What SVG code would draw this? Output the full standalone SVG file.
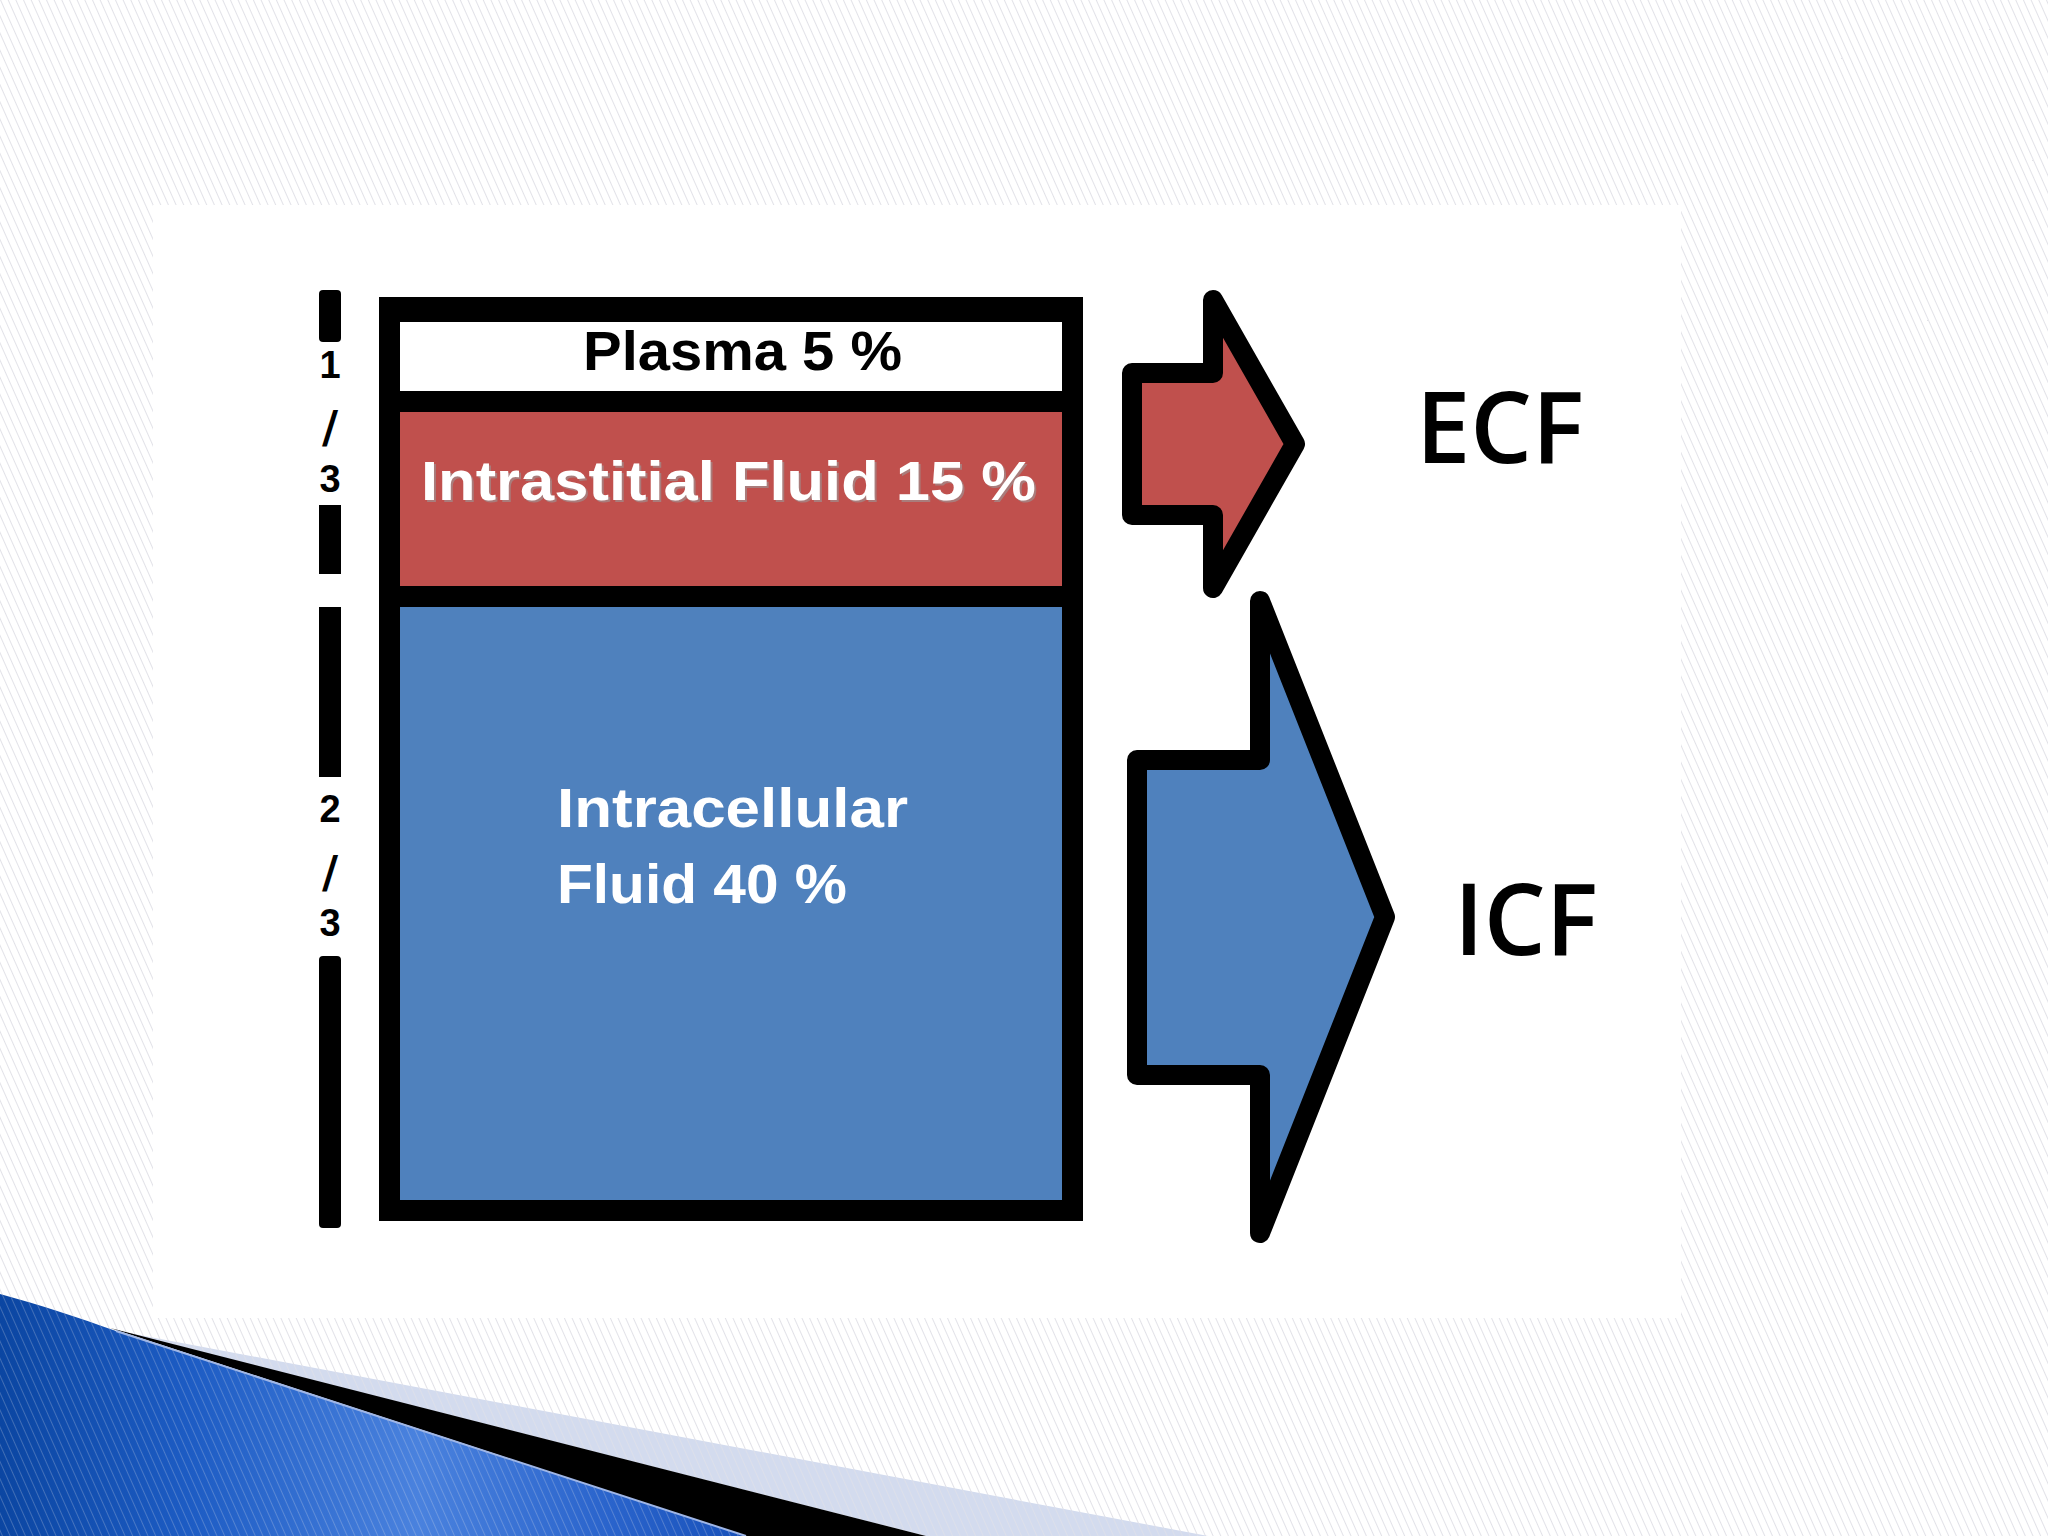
<svg xmlns="http://www.w3.org/2000/svg" width="2048" height="1536" viewBox="0 0 2048 1536">
  <defs>
    <pattern id="hatch" width="7" height="7" patternUnits="userSpaceOnUse" patternTransform="rotate(-24)">
      <line x1="0.5" y1="0" x2="0.5" y2="7" stroke="#e2e2e8" stroke-width="1"/>
    </pattern>
    <linearGradient id="blueSwoosh" x1="0" y1="0" x2="760" y2="0" gradientUnits="userSpaceOnUse">
      <stop offset="0" stop-color="#0b46a2"/>
      <stop offset="0.25" stop-color="#1d5cc4"/>
      <stop offset="0.55" stop-color="#4a82de"/>
      <stop offset="0.8" stop-color="#2a64cc"/>
      <stop offset="1" stop-color="#164fb8"/>
    </linearGradient>
    <style>
      .lbl { font-family: "Liberation Sans", Arial, sans-serif; font-weight: bold; }
      .big { font-family: "Open Sans", "Liberation Sans", sans-serif; font-weight: 600; font-size: 99px; fill: #000; }
      .frac { font-family: "Liberation Sans", Arial, sans-serif; font-weight: bold; font-size: 38px; fill: #000; text-anchor: middle; }
      .slash { font-family: "DejaVu Sans", sans-serif; font-weight: bold; font-size: 44px; fill: #000; text-anchor: middle; }
      .bar { fill: #000; }
      .arrow { stroke: #000; stroke-width: 20; stroke-linejoin: round; }
    </style>
  </defs>

  <!-- slide background -->
  <rect x="0" y="0" width="2048" height="1536" fill="#ffffff"/>
  <rect x="0" y="0" width="2048" height="1536" fill="url(#hatch)"/>

  <!-- bottom-left swoosh decoration -->
  <g id="swoosh">
    <polygon points="118,1331 1208,1536 926,1536" fill="#d3dbee"/>
    <polygon points="118,1331 1208,1536 926,1536" fill="url(#hatch)" opacity="0.6"/>
    <polygon points="110,1328 926,1536 746,1536" fill="#000"/>
    <path d="M0,1294 C40,1305 80,1318 116,1331 L746,1536 L0,1536 Z" fill="url(#blueSwoosh)"/>
    <path d="M0,1294 C40,1305 80,1318 116,1331 L746,1536 L0,1536 Z" fill="url(#hatch)" opacity="0.25"/>
    <line x1="116" y1="1331" x2="746" y2="1536" stroke="#9fb6e6" stroke-width="2"/>
  </g>

  <!-- picture area -->
  <rect x="153" y="205" width="1528" height="1113" fill="#ffffff"/>

  <!-- left fraction bar -->
  <g id="fraction-bar">
    <rect class="bar" x="319" y="290" width="22" height="52" rx="4"/>
    <rect class="bar" x="319" y="505" width="22" height="69"/>
    <rect class="bar" x="319" y="607" width="22" height="170"/>
    <rect class="bar" x="319" y="956" width="22" height="272" rx="4"/>
    <text class="frac" x="330" y="378">1</text>
    <text class="slash" x="330" y="443">/</text>
    <text class="frac" x="330" y="492">3</text>
    <text class="frac" x="330" y="822">2</text>
    <text class="slash" x="330" y="888">/</text>
    <text class="frac" x="330" y="936">3</text>
  </g>

  <!-- main column -->
  <g id="column-frame">
    <rect x="379" y="297" width="704" height="924" fill="#000"/>
  </g>
  <g id="plasma">
    <rect x="400" y="322" width="662" height="69" fill="#ffffff"/>
    <text class="lbl" x="583" y="370" font-size="56" fill="#000" textLength="319" lengthAdjust="spacingAndGlyphs">Plasma 5 %</text>
  </g>
  <g id="interstitial">
    <rect x="400" y="412" width="662" height="174" fill="#c0504d"/>
    <text class="lbl" x="423" y="502" font-size="56" fill="#9a9a9a" opacity="0.6" textLength="615" lengthAdjust="spacingAndGlyphs">Intrastitial Fluid 15 %</text>
    <text class="lbl" x="421" y="500" font-size="56" fill="#ffffff" textLength="615" lengthAdjust="spacingAndGlyphs">Intrastitial Fluid 15 %</text>
  </g>
  <g id="intracellular">
    <rect x="400" y="607" width="662" height="593" fill="#4f81bd"/>
    <text class="lbl" x="557" y="827" font-size="56" fill="#ffffff" textLength="351" lengthAdjust="spacingAndGlyphs">Intracellular</text>
    <text class="lbl" x="557" y="903" font-size="56" fill="#ffffff" textLength="290" lengthAdjust="spacingAndGlyphs">Fluid 40 %</text>
  </g>

  <!-- block arrows -->
  <g id="connectors">
    <polygon id="arrow-ecf" class="arrow" fill="#c0504d" points="1132,373 1213,373 1213,300 1295,444 1213,588 1213,515 1132,515"/>
    <polygon id="arrow-icf" class="arrow" fill="#4f81bd" points="1137,760 1260,760 1260,601 1385,917 1260,1233 1260,1075 1137,1075"/>
  </g>

  <g id="ecf">
    <text class="big" x="1416" y="463" textLength="168" lengthAdjust="spacingAndGlyphs">ECF</text>
  </g>
  <g id="icf">
    <text class="big" x="1454" y="955" textLength="144" lengthAdjust="spacingAndGlyphs">ICF</text>
  </g>
</svg>
